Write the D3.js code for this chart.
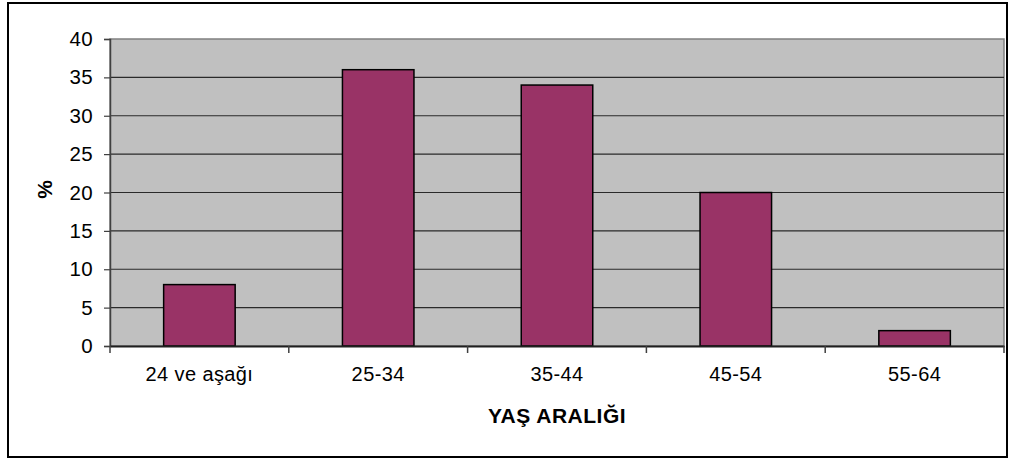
<!DOCTYPE html>
<html><head><meta charset="utf-8">
<script src="https://cdn.jsdelivr.net/npm/d3@7"></script>
<style>body{margin:0;background:#fff}svg{display:block}text{font-family:Arial,"Liberation Sans",sans-serif;fill:#000}</style>
</head><body><svg id="c" width="1010" height="460"></svg>
<script>
const categories = ["24 ve aşağı","25-34","35-44","45-54","55-64"];
const values = [8,36,34,20,2];
const yTicks = [0,5,10,15,20,25,30,35,40];
const xTitle = "YAŞ ARALIĞI";
const yTitle = "%";

const svg = d3.select("#c");
const L=110, R=1004, T=39, B=346;
svg.append("rect").attr("x",8).attr("y",3).attr("width",999).attr("height",454)
  .attr("fill","#fff").attr("stroke","#000").attr("stroke-width",2);

const x = d3.scaleBand().domain(categories).range([L,R]).paddingInner(0.6).paddingOuter(0.3);
const xb = d3.scaleBand().domain(categories).range([L,R]);
const y = d3.scaleLinear().domain([0,40]).range([B,T]);

svg.append("rect").attr("x",L).attr("y",T).attr("width",R-L).attr("height",B-T)
  .attr("fill","#c0c0c0").attr("stroke","#808080").attr("stroke-width",1.5);

svg.append("g").selectAll("line").data(yTicks.filter(d=>d>0&&d<40)).join("line")
  .attr("x1",L).attr("x2",R).attr("y1",d=>y(d)).attr("y2",d=>y(d))
  .attr("stroke","#2a2a2a").attr("stroke-width",1.2);

svg.append("g").selectAll("rect").data(values).join("rect")
  .attr("x",(d,i)=>x(categories[i])).attr("width",x.bandwidth())
  .attr("y",d=>y(d)).attr("height",d=>B-y(d))
  .attr("fill","#993366").attr("stroke","#000").attr("stroke-width",1.5);

// y axis
const ya = svg.append("g").attr("transform",`translate(${L},0)`)
  .call(d3.axisLeft(y).tickValues(yTicks).tickSize(6).tickPadding(11));
ya.select(".domain").attr("stroke","#404040").attr("stroke-width",1.5);
ya.selectAll(".tick line").attr("stroke","#404040").attr("stroke-width",1.2);
ya.selectAll(".tick text").style("font-size","20.5px").style("letter-spacing","0.3px").style("font-family","Arial,'Liberation Sans',sans-serif");

// x axis
const xa = svg.append("g").attr("transform",`translate(0,${B})`)
  .call(d3.axisBottom(xb).tickSize(0).tickPadding(21));
xa.select(".domain").attr("stroke","#202020").attr("stroke-width",2);
xa.selectAll(".tick text").style("font-size","20px").style("letter-spacing","0.4px").style("font-family","Arial,'Liberation Sans',sans-serif");
svg.append("g").selectAll("line").data(d3.range(categories.length+1)).join("line")
  .attr("x1",i=>L+i*xb.step()).attr("x2",i=>L+i*xb.step())
  .attr("y1",B).attr("y2",B+7).attr("stroke","#404040").attr("stroke-width",1.5);

svg.append("text").attr("x",(L+R)/2).attr("y",423).attr("text-anchor","middle")
  .style("font-size","21px").style("font-weight","bold").style("letter-spacing","0.5px").text(xTitle);
svg.append("text").attr("transform",`translate(52,${(T+B)/2-3}) rotate(-90)`).attr("text-anchor","middle")
  .style("font-size","21px").style("font-weight","bold").text(yTitle);
</script></body></html>
